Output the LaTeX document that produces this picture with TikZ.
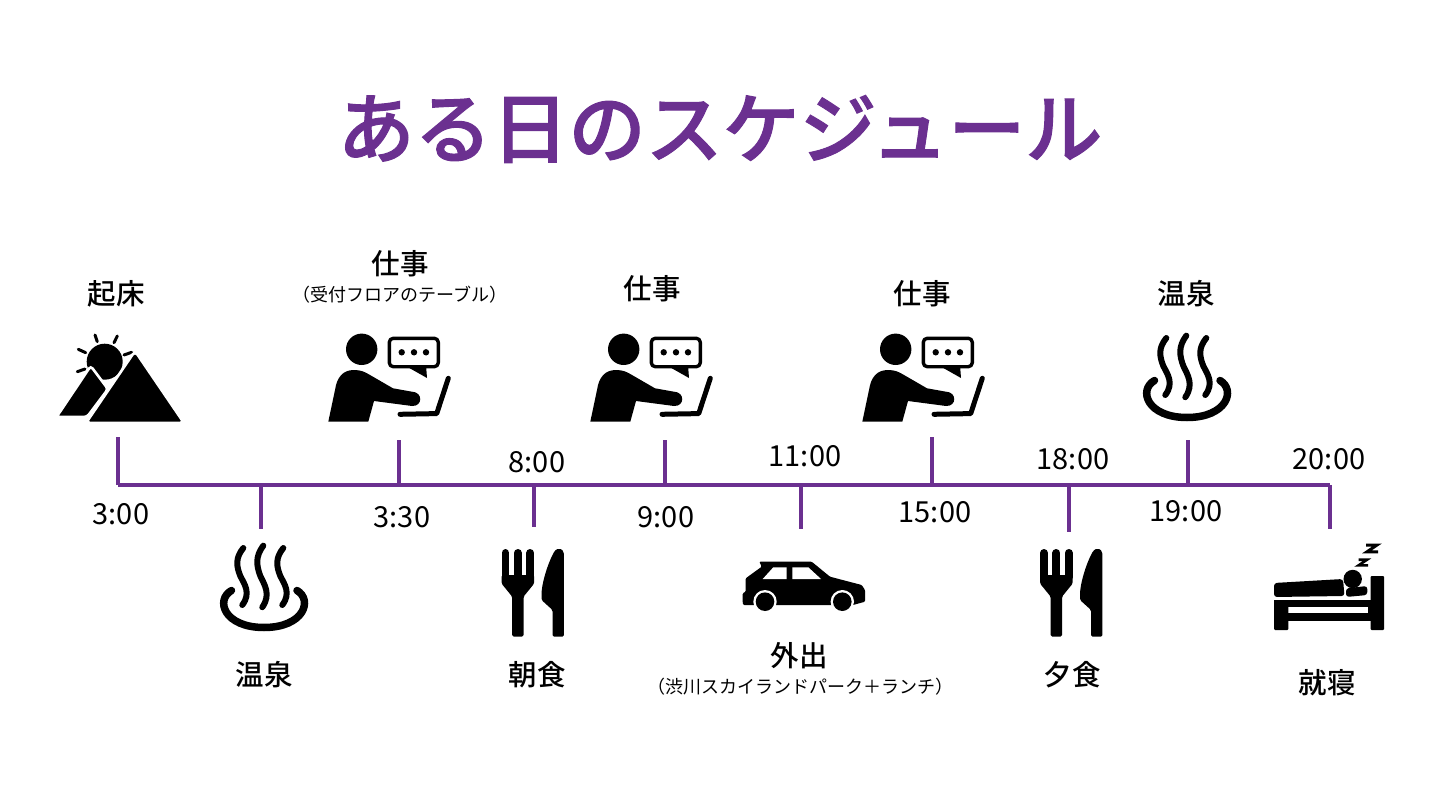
\documentclass[tikz,border=0pt]{standalone}
\usepackage{fontspec}
\setmainfont{Noto Sans CJK JP}
\newfontfamily\mediumfont{Noto Sans CJK JP Medium}
\newfontfamily\titlefont[FakeBold=1.3]{Noto Sans CJK JP Medium}
\usetikzlibrary{calc}
\definecolor{color1}{RGB}{107,48,144}
\tikzset{
  label/.style={inner sep=0pt,font=\fontsize{28.5}{30}\mediumfont},
  sublabel/.style={inner sep=0pt,font=\fontsize{18}{20}\selectfont},
  timelabel/.style={inner sep=0pt,font=\fontsize{29}{30}\selectfont},
  axisline/.style={color1,line width=4pt},
  pics/person/.style={code={
    \fill (33.7,14.3) circle (15.7);
    \fill (0.3,86.7) -- (7,55) .. controls (9,42) and (15,35) .. (26,35) .. controls (33,35) and (37,37) .. (42,40) -- (65,53.3) -- (84,56.7) .. controls (95,57) and (95,71.5) .. (84,71) -- (46,66) -- (40.3,86.7) -- cycle;
    \draw [line width=3.4pt,rounded corners=4pt,line join=round] (61.3,3.3) rectangle (110.3,31.7);
    \fill [line join=round] (76,30) -- (99,43) -- (98,30) -- cycle;
    \fill (73.7,17.3) circle (3.2) (86,17.3) circle (3.2) (98,17.3) circle (3.2);
    \draw [line width=5pt,line cap=round,line join=round] (120.3,43.3) -- (108.7,78.6) -- (72,79.3);
  }},
  pics/onsen/.style={code={
    \draw [line width=7.5pt,line cap=round] (13.5,45.5) .. controls (-3,55) and (6,82.5) .. (46,82.5) .. controls (86,82.5) and (95,55) .. (79,45.5);
    \foreach \dx/\dy/\len in {25.3/1/1,45.3/-1.5/1.08,65.3/1/1}{
      \draw [line width=6pt,line cap=round,shift={(\dx,\dy)},yscale=\len] (0,2) .. controls (-8,12) and (-7,20) .. (-3,30) .. controls (1,38) and (8,47) .. (-1,59);
    }
  }},
  pics/cutlery/.style={code={
    \foreach \x in {3.95,16.35,28.75}{
      \draw [line width=7.9pt,line cap=round] (\x,3.95) -- (\x,28);
    }
    \fill [rounded corners=1.5pt] (0,26) -- (32.7,26) -- (32.7,34.5) -- (22,47.7) -- (22,87.7) -- (10.7,87.7) -- (10.7,47.7) -- (0,34.5) -- cycle;
    \fill [rounded corners=1.5pt] (62.3,6) .. controls (62.3,2) and (60,0) .. (57.5,0) .. controls (55,0) and (53,2) .. (51.5,5) .. controls (46,16) and (41,32) .. (40,44) -- (40,51) -- (51,61) -- (51,87.7) -- (62.3,87.7) -- cycle;
  }},
}
\begin{document}
\begin{tikzpicture}[x=1pt,y=-1pt]
  \useasboundingbox (0,0) rectangle (1440,810);

  \node [inner sep=0pt,color1,font=\fontsize{77}{80}\titlefont] (title) at (720,129) {ある日のスケジュール};

  % axis and ticks
  \coordinate (start) at (118,485);
  \coordinate (end) at (1330,485);
  \draw [axisline] (start) -- (end);
  \foreach \n/\x/\y in {1/118/437,2/261/529,3/399/440,4/534/527,5/665/440,6/801/529,7/932/437,8/1069/532,9/1188/440,10/1330/529}{
    \coordinate (a\n) at (\x,485);
    \coordinate (b\n) at (\x,\y);
    \draw [axisline] (a\n) -- (b\n);
  }

  % times
  \node [timelabel] (t1) at (121,514) {3:00};
  \node [timelabel] (t3) at (402,517) {3:30};
  \node [timelabel] (t4) at (537,462) {8:00};
  \node [timelabel] (t5) at (666,517) {9:00};
  \node [timelabel] (t6) at (805,456) {11:00};
  \node [timelabel] (t7) at (935,512) {15:00};
  \node [timelabel] (t8) at (1073,459) {18:00};
  \node [timelabel] (t9) at (1186,511) {19:00};
  \node [timelabel] (t10) at (1329,459) {20:00};

  % labels
  \node [label] (wake) at (116,294) {起床};
  \node [label] (work1) at (400,264) {仕事};
  \node [sublabel] (work1sub) at (400,295) {（受付フロアのテーブル）};
  \node [label] (work2) at (652,289) {仕事};
  \node [label] (work3) at (922,294) {仕事};
  \node [label] (bath2) at (1186,294) {温泉};
  \node [label] (bath1) at (264,675) {温泉};
  \node [label] (meal1) at (537,675) {朝食};
  \node [label] (out) at (799,656) {外出};
  \node [sublabel] (outsub) at (800,687) {（渋川スカイランドパーク＋ランチ）};
  \node [label] (meal2) at (1072,675) {夕食};
  \node [label] (sleep) at (1327,683) {就寝};

  % icons
  \fill (104.7,361.7) circle (18);
  \draw [line width=3pt,line cap=round] (95,335) -- (97.3,341.7) (117.3,336) -- (114,342.7) (78.3,349.3) -- (85.7,352.7) (131.7,352.3) -- (124,355) (77.3,371.7) -- (85,369);
  \fill [rounded corners=3pt,draw=white,line width=2.6pt] (90.7,366) -- (108,389) -- (87,417) -- (56.5,417) -- cycle;
  \fill [rounded corners=4pt,draw=white,line width=2.6pt] (135,351) -- (184,423) -- (86,423) -- cycle;

  \pic at (328,335) {person};
  \pic at (590,335) {person};
  \pic at (862,335) {person};
  \pic at (218,545) {onsen};
  \pic at (1141,335) {onsen};
  \pic at (501.5,549) {cutlery};
  \pic at (1040,549) {cutlery};

  % car
  \begin{scope}[shift={(730,530)}]
    \fill [rounded corners=1pt] (29.3,31.7) -- (81.7,31.7) -- (100,46.7) -- (131.7,55) -- (135,60) -- (135,71.7) -- (123,75) -- (13.3,75) -- (12.7,72.7) -- (12.7,63.3) -- (15.7,61.7) -- (15.7,48.3) -- (31.7,36.7) -- cycle;
    \fill [white] (32.7,49) -- (43.3,37.3) -- (56.7,37.3) -- (56.7,49) -- cycle;
    \fill [white] (62.3,37.3) -- (78.3,37.3) -- (91,49) -- (62.3,49) -- cycle;
    \fill [white] (35,71.7) circle (11.7) (112.3,71.7) circle (11.7);
    \fill (35,71.7) circle (9.3) (112.3,71.7) circle (9.3);
  \end{scope}

  % bed
  \begin{scope}[shift={(1260,530)}]
    \fill [rounded corners=1pt] (110.7,46) rectangle (124,100);
    \fill (14,70) rectangle (124,90.7);
    \fill [white] (20.7,76.7) rectangle (108.3,82.7);
    \fill [rounded corners=1pt] (14,70) rectangle (28.3,100);
    \fill [rounded corners=3pt] (14,53) -- (83,49) -- (84.5,66) -- (14,67) -- cycle;
    \fill (92.7,49) circle (9.2);
    \fill [rounded corners=3pt] (86,58.3) -- (107.3,56) -- (107.3,65) -- (86,67) -- cycle;
    \draw [line width=3pt,line join=miter] (106,15) -- (117,15) -- (107,21.8) -- (118,21.8);
    \draw [line width=2.6pt,line join=miter] (98.5,29.7) -- (107,29.7) -- (98.5,35.4) -- (108,35.4);
  \end{scope}
\end{tikzpicture}
\end{document}
